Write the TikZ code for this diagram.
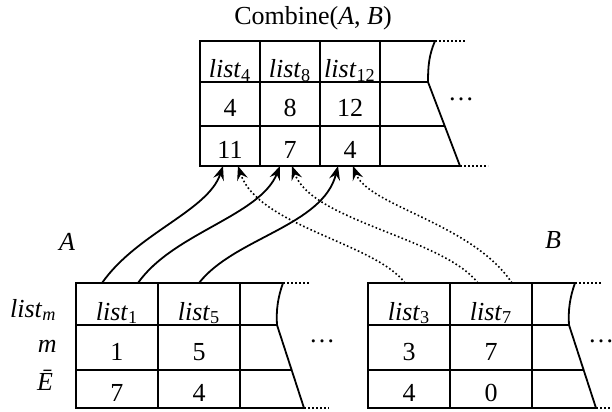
\documentclass[tikz,border=0pt]{standalone}
\usepackage{fontspec}
\setmainfont{Liberation Serif}
\usetikzlibrary{arrows.meta, positioning}

\begin{document}
\begin{tikzpicture}[
    x=0.5pt, y=-0.5pt,
    every node/.style={font=\fontsize{13}{15}\selectfont},
    cell/.style={draw, line width=0.9pt, inner sep=0pt, outer sep=0pt},
    hd/.style={cell, text height=16pt, text depth=0pt},
    val/.style={cell, text height=12.5pt, text depth=0pt},
    narrow/.style={minimum width=30pt},
    wide/.style={minimum width=41pt},
    frame/.style={line width=0.9pt},
    dots/.style={line width=0.8pt, dash pattern=on 0.8pt off 1.2pt},
    solidarrow/.style={line width=0.9pt, -{Stealth[length=7pt, width=5.5pt, inset=2.5pt]}},
    dotarrow/.style={dots, -{Stealth[length=7pt, width=5.5pt, inset=2.5pt]}}
  ]
  \useasboundingbox (0,0) rectangle (612,412);

  % Combined table
  \node (title) at (313,18) {Combine(\textit{A}, \textit{B})};
  \node[hd, narrow, minimum height=20.5pt, anchor=north west] (c1) at (200,41) {\textit{list}\textsubscript{4}};
  \node[hd, narrow, minimum height=20.5pt, right=0pt of c1] (c2) {\textit{list}\textsubscript{8}};
  \node[hd, narrow, minimum height=20.5pt, right=0pt of c2] (c3) {\textit{list}\textsubscript{12}};
  \node[val, narrow, minimum height=22pt, below=0pt of c1] (n1) {4};
  \node[val, narrow, minimum height=22pt, below=0pt of c2] (n2) {8};
  \node[val, narrow, minimum height=22pt, below=0pt of c3] (n3) {12};
  \node[val, narrow, minimum height=20pt, below=0pt of n1] (e1) {11};
  \node[val, narrow, minimum height=20pt, below=0pt of n2] (e2) {7};
  \node[val, narrow, minimum height=20pt, below=0pt of n3] (e3) {4};
  \draw[frame] (c3.north east) -- (435,41) .. controls (429,55) and (428,66) .. (428,82) -- (460,166) -- (e3.south east);
  \draw[frame] (c3.south east) -- (428,82);
  \draw[frame] (n3.south east) -- (444.6,126);
  \draw[dots] (435,41) -- (466,41);
  \draw[dots] (460,166) -- (488,166);
  \node (more0) at (461,99) {\dots};

  % Table A
  \node (la) at (67,242) {\textit{A}};
  \node[anchor=base east, inner sep=0pt] (lm) at (57,317) {\textit{list}\textsubscript{\textit{m}}};
  \node[anchor=base east, inner sep=0pt] (lmm) at (57,352) {\textit{m}};
  \node[anchor=base] (le) at (45,390) {\textit{\=E}};
  \node[hd, wide, minimum height=21pt, anchor=north west] (a1) at (76,283) {\textit{list}\textsubscript{1}};
  \node[hd, wide, minimum height=21pt, right=0pt of a1] (a2) {\textit{list}\textsubscript{5}};
  \node[val, wide, minimum height=22.5pt, below=0pt of a1] (am1) {1};
  \node[val, wide, minimum height=22.5pt, below=0pt of a2] (am2) {5};
  \node[val, wide, minimum height=19pt, below=0pt of am1] (ae1) {7};
  \node[val, wide, minimum height=19pt, below=0pt of am2] (ae2) {4};
  \draw[frame] (a2.north east) -- (283,283) .. controls (278,297) and (276,310) .. (277,325) -- (304,408) -- (ae2.south east);
  \draw[frame] (a2.south east) -- (277,325);
  \draw[frame] (am2.south east) -- (291.4,370);
  \draw[dots] (283,283) -- (309,283);
  \draw[dots] (304,408) -- (329,408);
  \node (more1) at (322,341) {\dots};

  % Table B
  \node (lb) at (553,240) {\textit{B}};
  \node[hd, wide, minimum height=21pt, anchor=north west] (b1) at (368,283) {\textit{list}\textsubscript{3}};
  \node[hd, wide, minimum height=21pt, right=0pt of b1] (b2) {\textit{list}\textsubscript{7}};
  \node[val, wide, minimum height=22.5pt, below=0pt of b1] (bm1) {3};
  \node[val, wide, minimum height=22.5pt, below=0pt of b2] (bm2) {7};
  \node[val, wide, minimum height=19pt, below=0pt of bm1] (be1) {4};
  \node[val, wide, minimum height=19pt, below=0pt of bm2] (be2) {0};
  \draw[frame] (b2.north east) -- (575,283) .. controls (570,297) and (568,310) .. (569,325) -- (596,408) -- (be2.south east);
  \draw[frame] (b2.south east) -- (569,325);
  \draw[frame] (bm2.south east) -- (583.4,370);
  \draw[dots] (575,283) -- (601,283);
  \draw[dots] (596,408) -- (612,408);
  \node (more2) at (601,341) {\dots};

  % Lists taken from A
  \draw[solidarrow] ([xshift=-7.5pt]a1.north) .. controls +(35,-50) and +(-15,45) .. ([xshift=-3.5pt]e1.south);
  \draw[solidarrow] ([xshift=10.5pt]a1.north) .. controls +(35,-50) and +(-20,50) .. ([xshift=-5pt]e2.south);
  \draw[solidarrow] (a2.north) .. controls +(35,-45) and +(-15,60) .. ([xshift=-6pt]e3.south);

  % Lists taken from B
  \draw[dotarrow] ([xshift=-2pt]b1.north) .. controls +(-30,-40) and +(20,60) .. ([xshift=4pt]e1.south);
  \draw[dotarrow] ([xshift=-6.5pt]b2.north) .. controls +(-35,-45) and +(20,55) .. ([xshift=1pt]e2.south);
  \draw[dotarrow] ([xshift=10.5pt]b2.north) .. controls +(-40,-60) and +(15,40) .. ([xshift=1.5pt]e3.south);
\end{tikzpicture}
\end{document}
